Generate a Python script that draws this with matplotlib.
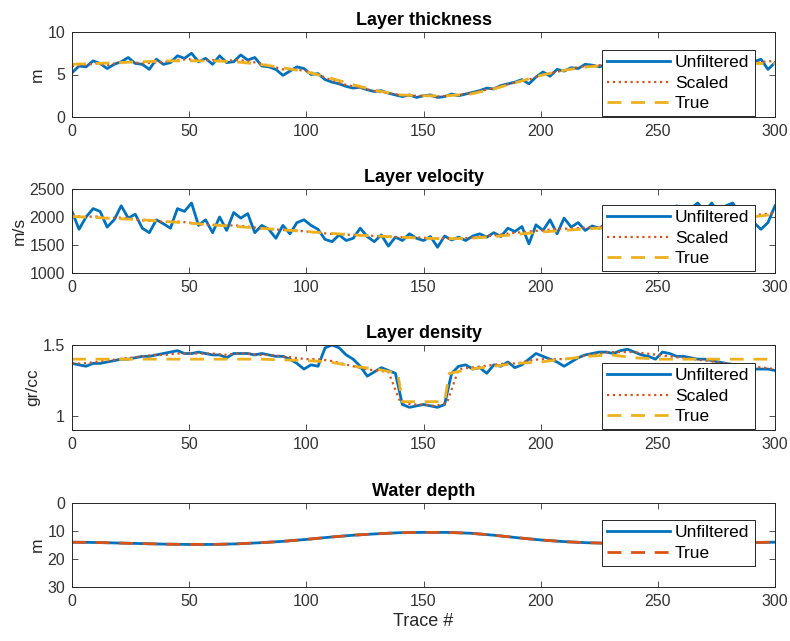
import numpy as np
import matplotlib
matplotlib.use("Agg")
import matplotlib.pyplot as plt

plt.rcParams['font.family'] = ['Liberation Sans', 'DejaVu Sans']

# MATLAB default colours
c_blue = '#0072BD'
c_orange = '#D95319'
c_yellow = '#EDB120'

# trace positions
x_unf = np.arange(0, 301, 3)
x_scl = np.arange(0, 301, 5)
x_true = np.arange(0, 301, 10)

# ---- layer thickness (m)
thk_unf = [5.2, 6.0, 5.9, 6.6, 6.3, 5.7, 6.2, 6.5, 7.0, 6.3,
           6.2, 5.6, 6.8, 6.2, 6.4, 7.2, 6.9, 7.5, 6.5, 6.9,
           6.2, 7.2, 6.4, 6.5, 7.3, 6.7, 7.0, 6.0, 5.9, 5.6,
           4.9, 5.4, 5.9, 5.7, 5.0, 5.1, 4.4, 4.1, 3.9, 3.6,
           3.4, 3.5, 3.2, 3.0, 3.1, 2.8, 2.6, 2.4, 2.6, 2.3,
           2.5, 2.6, 2.3, 2.4, 2.7, 2.5, 2.7, 2.9, 3.1, 3.4,
           3.3, 3.7, 3.9, 4.1, 4.4, 3.9, 4.7, 5.3, 4.8, 5.6,
           5.4, 5.8, 5.7, 6.2, 6.1, 5.9, 6.2, 6.4, 6.0, 6.5,
           6.2, 6.6, 6.1, 6.4, 6.7, 6.2, 6.5, 6.0, 6.6, 6.3,
           6.5, 6.1, 6.7, 6.4, 6.2, 6.6, 6.3, 6.5, 6.8, 5.6,
           6.4]
thk_scl = [6.0, 6.1, 6.3, 6.1, 6.4, 6.5, 6.3, 6.4, 6.5, 6.7,
           6.8, 6.6, 6.7, 6.6, 6.7, 6.6, 6.3, 6.0, 5.6, 5.6,
           5.4, 5.0, 4.4, 3.9, 3.6, 3.3, 3.0, 2.8, 2.6, 2.5,
           2.5, 2.4, 2.5, 2.6, 2.8, 3.1, 3.4, 3.8, 4.1, 4.4,
           4.9, 5.2, 5.5, 5.8, 6.0, 6.1, 6.2, 6.2, 6.3, 6.3,
           6.4, 6.3, 6.4, 6.3, 6.4, 6.4, 6.3, 6.4, 6.4, 6.5,
           6.6]
thk_true = [6.2, 6.3, 6.4, 6.5, 6.6, 6.6, 6.6, 6.5, 6.2, 5.8,
            5.3, 4.6, 3.8, 3.1, 2.6, 2.5, 2.5, 2.7, 3.3, 4.1,
            4.9, 5.5, 5.9, 6.1, 6.2, 6.3, 6.3, 6.3, 6.3, 6.3,
            6.3]

# ---- layer velocity (m/s)
vel_unf = [2100, 1780, 2000, 2150, 2100, 1820, 1950, 2200, 1980, 2050,
           1800, 1720, 1950, 1880, 1800, 2150, 2100, 2250, 1850, 1950,
           1720, 2000, 1760, 2080, 1980, 2060, 1720, 1850, 1780, 1620,
           1850, 1700, 1900, 1950, 1850, 1780, 1600, 1560, 1680, 1580,
           1620, 1800, 1650, 1560, 1680, 1480, 1640, 1580, 1700, 1620,
           1580, 1650, 1460, 1660, 1590, 1640, 1580, 1660, 1700, 1640,
           1720, 1650, 1800, 1740, 1830, 1520, 1860, 1760, 1950, 1700,
           1980, 1820, 1900, 1760, 1840, 1800, 1880, 1780, 1900, 1850,
           1960, 1880, 2000, 1950, 2100, 2050, 2200, 2000, 2150, 2250,
           2100, 2250, 2050, 2200, 2250, 2050, 2150, 1900, 1780, 1900,
           2200]
vel_scl = [2030, 2000, 2010, 1980, 1990, 1970, 1940, 1930, 1910, 1920,
           1900, 1870, 1860, 1850, 1850, 1830, 1800, 1780, 1770, 1760,
           1740, 1720, 1700, 1690, 1680, 1670, 1660, 1650, 1640, 1640,
           1630, 1620, 1620, 1620, 1630, 1650, 1670, 1700, 1720, 1740,
           1760, 1780, 1790, 1800, 1810, 1820, 1830, 1840, 1850, 1860,
           1880, 1900, 1920, 1940, 1960, 1980, 2000, 2010, 2030, 2050,
           2070]
vel_true = [2010, 1990, 1970, 1950, 1920, 1890, 1860, 1830, 1800, 1770,
            1740, 1710, 1680, 1660, 1640, 1620, 1610, 1620, 1650, 1690,
            1730, 1760, 1790, 1810, 1830, 1850, 1880, 1910, 1950, 2000,
            2050]

# ---- layer density (gr/cc)
den_unf = [1.37, 1.36, 1.35, 1.37, 1.37, 1.38, 1.39, 1.40, 1.40, 1.41,
           1.42, 1.42, 1.43, 1.44, 1.45, 1.46, 1.44, 1.44, 1.45, 1.44,
           1.43, 1.43, 1.41, 1.44, 1.44, 1.44, 1.43, 1.44, 1.43, 1.42,
           1.42, 1.40, 1.37, 1.33, 1.36, 1.35, 1.48, 1.50, 1.48, 1.43,
           1.40, 1.35, 1.28, 1.31, 1.34, 1.32, 1.30, 1.08, 1.06, 1.07,
           1.08, 1.07, 1.06, 1.08, 1.30, 1.35, 1.36, 1.33, 1.34, 1.30,
           1.36, 1.35, 1.38, 1.34, 1.36, 1.40, 1.44, 1.42, 1.40, 1.38,
           1.35, 1.38, 1.41, 1.43, 1.44, 1.45, 1.45, 1.44, 1.46, 1.47,
           1.45, 1.43, 1.42, 1.40, 1.45, 1.44, 1.42, 1.42, 1.41, 1.40,
           1.40, 1.39, 1.38, 1.37, 1.36, 1.36, 1.34, 1.33, 1.33, 1.33,
           1.32]
den_scl = [1.37, 1.37, 1.38, 1.39, 1.40, 1.41, 1.42, 1.43, 1.43, 1.44,
           1.44, 1.44, 1.44, 1.43, 1.44, 1.44, 1.43, 1.43, 1.42, 1.41,
           1.40, 1.40, 1.39, 1.37, 1.35, 1.33, 1.32, 1.31, 1.10, 1.08,
           1.08, 1.07, 1.09, 1.33, 1.34, 1.35, 1.36, 1.37, 1.37, 1.39,
           1.40, 1.40, 1.40, 1.41, 1.43, 1.44, 1.45, 1.45, 1.45, 1.44,
           1.43, 1.42, 1.41, 1.40, 1.39, 1.38, 1.37, 1.36, 1.35, 1.34,
           1.33]
x_den_true = [0, 20, 40, 60, 80, 100, 110, 120, 130, 139, 141, 150, 159, 161,
              170, 180, 190, 200, 210, 220, 230, 240, 250, 260, 270, 280, 290, 300]
den_true = [1.40, 1.40, 1.40, 1.40, 1.40, 1.39, 1.38, 1.35, 1.33, 1.30, 1.10,
            1.10, 1.10, 1.30, 1.33, 1.35, 1.37, 1.38, 1.40, 1.42, 1.43, 1.41,
            1.40, 1.40, 1.40, 1.40, 1.40, 1.40]

# ---- water depth (m)
wd_true = [14.0, 14.1, 14.3, 14.5, 14.7, 14.8, 14.8, 14.6, 14.2, 13.7,
           13.0, 12.2, 11.5, 11.0, 10.6, 10.5, 10.5, 10.8, 11.5, 12.4,
           13.2, 13.8, 14.2, 14.4, 14.5, 14.5, 14.4, 14.3, 14.2, 14.1,
           14.0]
wd_unf = wd_true

fig = plt.figure(figsize=(7.9, 6.41), dpi=100)
W, H = 790.0, 641.0


def make_ax(top_px, bot_px):
    return fig.add_axes([72 / W, 1 - bot_px / H, 703 / W, (bot_px - top_px) / H])


def style(ax, title, ylabel):
    ax.set_xlim(0, 300)
    ax.set_xticks([0, 50, 100, 150, 200, 250, 300])
    ax.set_title(title, fontsize=13, fontweight='bold', pad=5, color='black')
    ax.set_ylabel(ylabel, fontsize=12.5, color='#262626', labelpad=2)
    ax.tick_params(direction='in', top=True, right=True, length=4, width=0.6,
                   labelsize=11.5, colors='#333333', pad=5)
    for s in ax.spines.values():
        s.set_color('#262626')
        s.set_linewidth(0.7)


def legend(ax, top_px):
    leg = ax.legend(loc='upper left', bbox_to_anchor=(602 / W, 1 - top_px / H),
                    bbox_transform=fig.transFigure, fontsize=12.5, frameon=True,
                    fancybox=False, framealpha=1, edgecolor='#262626',
                    handlelength=3.6, handletextpad=0.3, labelspacing=0.3,
                    borderpad=0.3, borderaxespad=0)
    leg.get_frame().set_linewidth(0.7)
    leg.set_zorder(10)


panels = [
    (32, 117, 'Layer thickness', 'm', thk_unf, thk_scl, thk_true, x_true, 50),
    (189, 273, 'Layer velocity', 'm/s', vel_unf, vel_scl, vel_true, x_true, 205),
    (345, 430, 'Layer density', 'gr/cc', den_unf, den_scl, den_true, x_den_true, 363),
]

axes = []
for top, bot, title, ylab, unf, scl, tru, xt, legtop in panels:
    ax = make_ax(top, bot)
    ax.plot(x_unf, unf, color=c_blue, lw=2.0, label='Unfiltered')
    ax.plot(x_scl, scl, color=c_orange, lw=1.6, ls=':', label='Scaled')
    ax.plot(xt, tru, color=c_yellow, lw=2.0, ls=(0, (5, 3.5)), label='True')
    style(ax, title, ylab)
    legend(ax, legtop)
    axes.append(ax)

axes[0].set_ylim(0, 10)
axes[0].set_yticks([0, 5, 10])
axes[1].set_ylim(1000, 2500)
axes[1].set_yticks([1000, 1500, 2000, 2500])
axes[2].set_ylim(0.9, 1.5)
axes[2].set_yticks([1, 1.5])
axes[2].set_yticklabels(['1', '1.5'])

ax4 = make_ax(503, 587)
ax4.plot(x_true, wd_unf, color=c_blue, lw=2.0, label='Unfiltered')
ax4.plot(x_true, wd_true, color=c_orange, lw=2.0, ls=(0, (5, 3.5)), label='True')
style(ax4, 'Water depth', 'm')
ax4.set_ylim(30, 0)
ax4.set_yticks([0, 10, 20, 30])
ax4.set_xlabel('Trace #', fontsize=13, color='#262626', labelpad=3)
legend(ax4, 520)

fig.savefig('out.png', dpi=100)
